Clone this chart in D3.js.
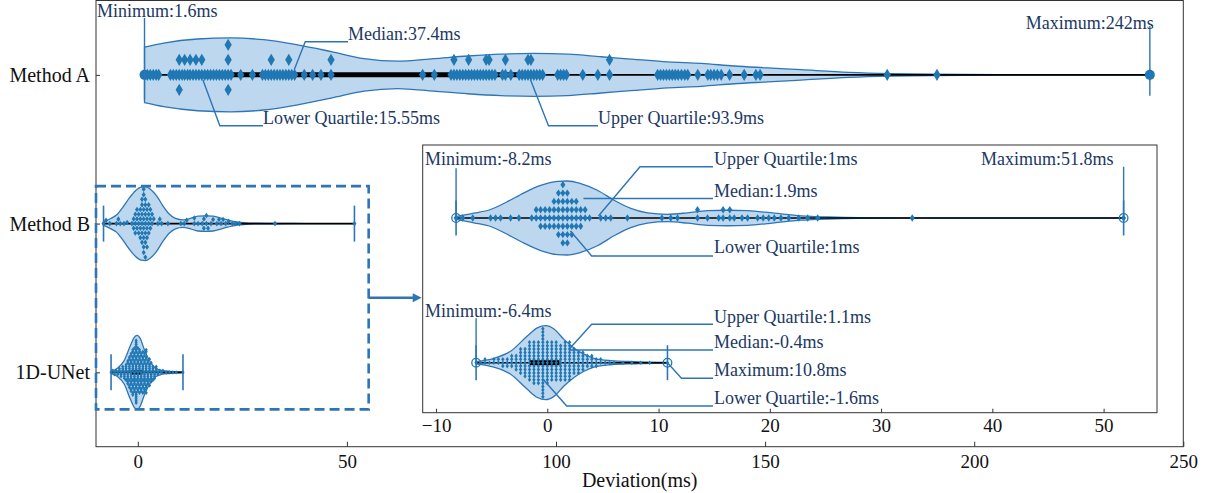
<!DOCTYPE html>
<meta charset="utf-8">
<head>
<script src="https://d3js.org/d3.v7.min.js"></script>
<style>
  body { margin: 0; background: #fff; }
  text { font-family: "Liberation Serif", "Times New Roman", serif; }
</style>
</head>
<body>
<div id="chart"></div>
<script>
var width = 1214, height = 493;

var methods = ["Method A", "Method B", "1D-UNet"];
var minVals = [1.6, -8.2, -6.4];
var q1Vals = [15.55, 1, -1.6];
var medVals = [37.4, 1.9, -0.4];
var q3Vals = [93.9, 1, 1.1];
var maxVals = [242, 51.8, 10.8];

var mainTicks = [0, 50, 100, 150, 200, 250];
var insetTicks = [-10, 0, 10, 20, 30, 40, 50];

var methodAValues = [
  1.6, 2.3, 3.0, 3.7, 4.4, 5.0,
  7.8, 8.5, 9.2, 9.9, 9.9, 9.9, 10.6, 11.2, 11.2, 11.9, 12.5, 12.5, 13.2, 13.9, 13.9,
  14.6, 15.3, 15.3, 16.0, 16.7, 17.4, 18.1, 18.8, 19.5, 20.2, 20.9, 21.6, 21.6, 21.6, 21.6, 22.3,
  24.6, 27.4, 29.8, 30.5, 31.2, 31.9, 31.9, 32.6, 33.3, 34.0, 34.7, 35.4, 36.1, 36.1, 36.8, 37.5,
  39.8, 41.8, 43.8, 46.2, 46.2,
  68.1, 70.9, 74.9, 75.6, 75.6, 76.3, 77.0, 77.7, 78.4, 79.1, 79.1, 79.8, 80.5, 81.2, 81.9, 82.6,
  83.3, 83.3, 84.0, 84.0, 84.7, 85.4, 87.2, 87.9, 87.9, 89.2, 91.2, 91.9, 92.6, 93.3, 93.3, 94.0,
  94.0, 94.7, 95.4, 96.1, 96.8,
  100.4, 101.1, 101.8, 102.5, 106.4, 110.0, 112.8, 112.8,
  124.3, 125.0, 125.7, 126.4, 127.1, 127.8, 128.5, 129.2, 130.0, 130.8, 131.5, 133.9, 136.3,
  137.0, 137.8, 138.6, 139.5, 141.5, 145.0, 147.8, 148.8,
  179.2, 191.1, 242
];

// Method B: [value, how many points]
var methodBCounts = [
  [-8.2, 1], [-7.6, 1], [-6.7, 1], [-5.1, 1], [-4.65, 1], [-4.2, 1], [-3.3, 1], [-2.55, 1],
  [-1.4, 1], [-1.0, 2], [-0.6, 3], [-0.2, 3], [0.2, 3], [0.6, 4], [1.0, 6], [1.4, 8], [1.8, 7],
  [2.2, 5], [2.6, 4], [3.0, 3], [3.4, 2], [3.8, 1],
  [4.8, 1], [5.25, 1], [5.7, 1], [7.2, 1], [10.3, 1], [11.1, 1], [11.7, 1], [13.5, 2], [14.4, 1],
  [15.4, 1], [15.8, 2], [16.4, 2], [16.8, 1], [17.5, 1], [18.0, 1], [18.9, 1], [19.4, 1], [19.9, 1],
  [20.4, 1], [21.0, 1], [21.7, 1], [22.6, 1], [23.4, 1], [24.3, 1], [32.8, 1], [51.8, 1]
];

// 1D-UNet: [value, how many points]
var unetCounts = [
  [-6.4, 1], [-6.0, 1], [-5.6, 2], [-5.2, 1], [-4.8, 2], [-4.4, 2], [-4.0, 3], [-3.6, 3],
  [-3.2, 4], [-2.8, 5], [-2.4, 8], [-2.0, 9], [-1.6, 12], [-1.2, 13], [-0.8, 13], [-0.4, 21],
  [0.0, 13], [0.4, 12], [0.8, 12], [1.2, 11], [1.6, 12], [2.0, 12], [2.4, 8], [2.8, 7],
  [3.2, 6], [3.6, 4], [4.0, 4], [4.4, 3], [4.8, 2], [5.2, 1], [5.6, 1], [6.0, 1], [6.8, 1],
  [7.6, 1], [8.4, 1], [9.2, 1], [10.8, 1]
];

// violin outlines: [value, relative half width]
var methodADensity = [
  [1.6, 0.75], [6.2, 0.86], [14.3, 0.97], [22.2, 1.0], [30.1, 0.95], [38.2, 0.81], [46.2, 0.63],
  [54.1, 0.44], [62.1, 0.37], [70.8, 0.44], [78.9, 0.51], [86.8, 0.56], [94.7, 0.58], [102.8, 0.56],
  [110.8, 0.49], [118.7, 0.42], [126.7, 0.35], [134.7, 0.31], [142.6, 0.24], [150.6, 0.19],
  [158.6, 0.14], [170, 0.07], [180, 0.035], [190, 0.017], [205, 0.008], [242, 0.003]
];
var methodBDensity = [
  [-8.2, 0.04], [-6.6, 0.13], [-5.1, 0.23], [-3.6, 0.44], [-2.1, 0.68], [-0.6, 0.88], [0.9, 0.99],
  [1.8, 1.0], [3.0, 0.93], [4.5, 0.75], [6.0, 0.48], [7.5, 0.26], [9.0, 0.14], [10.8, 0.1],
  [12.6, 0.14], [14.4, 0.2], [16.2, 0.21], [18.0, 0.2], [20.4, 0.13], [22.8, 0.06], [25.2, 0.027],
  [28, 0.01], [33, 0.006], [40, 0.002], [51.8, 0.001]
];
var unetDensity = [
  [-6.4, 0.03], [-4.8, 0.12], [-3.3, 0.31], [-1.8, 0.72], [-0.9, 0.94], [-0.15, 1.0], [0.6, 0.91],
  [1.5, 0.63], [2.4, 0.4], [3.3, 0.23], [4.2, 0.12], [5.7, 0.055], [7.8, 0.028], [10.8, 0.008]
];

var blue = "#1f77b4", edge = "#2e75b6", fillBlue = "#bdd7ee", navy = "#203864";

function expand(pairs) {
  var out = [];
  pairs.forEach(function(p) { for (var i = 0; i < p[1]; i++) out.push(p[0]); });
  return out;
}

var values = {"Method A": methodAValues, "Method B": expand(methodBCounts), "1D-UNet": expand(unetCounts)};
var density = {"Method A": methodADensity, "Method B": methodBDensity, "1D-UNet": unetDensity};

var svg = d3.select("#chart").append("svg")
  .attr("width", width)
  .attr("height", height);
svg.append("rect").attr("width", width).attr("height", height).attr("fill", "#fff");

var xM = d3.scaleLinear().domain([-10, 250]).range([96, 1183.3]);
var yM = d3.scalePoint().domain(methods).range([0.5, 446.7]).padding(0.5);
var xI = d3.scaleLinear().domain([-11.2, 54.8]).range([422.7, 1157]);
var yI = d3.scalePoint().domain(methods.slice(1)).range([218, 362.7]);
var halfW = d3.scaleLinear().domain([0, 1]).range([0, 37]);

// beeswarm with an elliptical footprint (cx wide, cy tall)
function swarm(vals, xs, cx, cy) {
  var placed = [];
  vals.slice().sort(d3.ascending).forEach(function(v) {
    var x = xs(v);
    var nb = placed.filter(function(p) { return Math.abs(p.x - x) < cx; });
    var cands = [0];
    nb.forEach(function(p) {
      var du = (x - p.x) / cx;
      var h = Math.sqrt(Math.max(0, 1 - du * du));
      cands.push(p.w + h, p.w - h);
    });
    cands.sort(function(a, b) { return (Math.abs(a) - Math.abs(b)) || (a - b); });
    var w = 0;
    for (var k = 0; k < cands.length; k++) {
      var c = cands[k];
      var ok = nb.every(function(p) {
        var du = (x - p.x) / cx, dw = c - p.w;
        return du * du + dw * dw >= 0.999;
      });
      if (ok) { w = c; break; }
    }
    placed.push({x: x, w: w, v: v});
  });
  return placed.map(function(p) { return {x: p.x, y: p.w * cy}; });
}

function diamond(w, h) { return "M0," + (-h) + "L" + w + ",0L0," + h + "L" + (-w) + ",0Z"; }

function drawViolin(g, xs, cy, name) {
  var area = d3.area()
    .x(function(d) { return xs(d[0]); })
    .y0(function(d) { return cy - halfW(d[1]); })
    .y1(function(d) { return cy + halfW(d[1]); })
    .curve(d3.curveMonotoneX);
  g.append("path").attr("d", area(density[name]))
    .attr("fill", fillBlue).attr("stroke", edge).attr("stroke-width", 1.3);
}

function drawBox(g, xs, cy, i) {
  g.append("line").attr("x1", xs(minVals[i])).attr("x2", xs(maxVals[i]))
    .attr("y1", cy).attr("y2", cy).attr("stroke", "#000").attr("stroke-width", 1.6);
  g.append("line").attr("x1", xs(q1Vals[i])).attr("x2", xs(q3Vals[i]))
    .attr("y1", cy).attr("y2", cy).attr("stroke", "#000").attr("stroke-width", 5);
}

function drawSwarm(g, xs, cy, name, o) {
  g.append("g").selectAll("path")
    .data(swarm(values[name], xs, o.cx, o.cy))
    .enter().append("path")
    .attr("d", diamond(o.w, o.h))
    .attr("transform", function(d) { return "translate(" + d.x + "," + (cy + d.y) + ")"; })
    .attr("fill", blue);
}

function drawCaps(g, xs, cy, i, len) {
  [minVals[i], maxVals[i]].forEach(function(v) {
    g.append("line").attr("x1", xs(v)).attr("x2", xs(v))
      .attr("y1", cy - len).attr("y2", cy + len)
      .attr("stroke", edge).attr("stroke-width", 1.6);
  });
}

var lineGen = d3.line();
function annotate(g, list) {
  list.forEach(function(a) {
    g.append("path").attr("d", lineGen(a.pts)).attr("fill", "none")
      .attr("stroke", edge).attr("stroke-width", 1.4);
    g.append("text").attr("x", a.x).attr("y", a.y)
      .attr("text-anchor", a.anchor || "start")
      .attr("font-size", 18).attr("fill", navy).text(a.text);
  });
}

// ---------- main axes ----------
var mainG = svg.append("g");
var mainOpts = {
  "Method A": {cx: 2.5, cy: 15, w: 3.6, h: 6.2},
  "Method B": {cx: 3.2, cy: 5.5, w: 2, h: 2.8},
  "1D-UNet": {cx: 3.2, cy: 2.0, w: 1.6, h: 2.1}
};
methods.forEach(function(m, i) {
  var cy = yM(m);
  drawViolin(mainG, xM, cy, m);
  drawBox(mainG, xM, cy, i);
  drawSwarm(mainG, xM, cy, m, mainOpts[m]);
  if (i > 0) drawCaps(mainG, xM, cy, i, 18);
});

var yA = yM("Method A");
[minVals[0], maxVals[0]].forEach(function(v) {
  mainG.append("circle").attr("cx", xM(v)).attr("cy", yA).attr("r", 5).attr("fill", blue);
});

annotate(mainG, [
  {text: "Minimum:" + minVals[0] + "ms", x: 97, y: 16.5,
   pts: [[xM(minVals[0]), 18], [xM(minVals[0]), yA + 25]]},
  {text: "Median:" + medVals[0] + "ms", x: 348, y: 40,
   pts: [[xM(medVals[0]), yA - 5], [xM(medVals[0]) + 11, 41.7], [348, 41.7]]},
  {text: "Lower Quartile:" + q1Vals[0] + "ms", x: 263, y: 124,
   pts: [[xM(q1Vals[0]), yA + 5], [xM(q1Vals[0]) + 17, 125.7], [263, 125.7]]},
  {text: "Upper Quartile:" + q3Vals[0] + "ms", x: 598, y: 124,
   pts: [[xM(q3Vals[0]), yA + 5], [xM(q3Vals[0]) + 18, 125.7], [598, 125.7]]},
  {text: "Maximum:" + maxVals[0] + "ms", x: xM(maxVals[0]) + 4, y: 29, anchor: "end",
   pts: [[xM(maxVals[0]), 26], [xM(maxVals[0]), yA + 21]]}
]);

// main axes frame and ticks
svg.append("rect").attr("x", 96).attr("y", 0.5).attr("width", 1087.3).attr("height", 446.2)
  .attr("fill", "none").attr("stroke", "#333").attr("stroke-width", 1);

var xAxisM = svg.append("g").attr("transform", "translate(0,446.7)")
  .call(d3.axisBottom(xM).tickValues(mainTicks).tickSizeInner(-5).tickSizeOuter(0).tickPadding(8));
var yAxisM = svg.append("g").attr("transform", "translate(96,0)")
  .call(d3.axisLeft(yM).tickSizeInner(-4).tickSizeOuter(0).tickPadding(6));
[xAxisM, yAxisM].forEach(function(ax) {
  ax.select(".domain").remove();
  ax.selectAll(".tick line").attr("stroke", "#333");
  ax.selectAll(".tick text").attr("font-family", "Liberation Serif").attr("fill", "#111");
});
xAxisM.selectAll(".tick text").attr("font-size", 19);
yAxisM.selectAll(".tick text").attr("font-size", 20);

svg.append("text").attr("x", (xM.range()[0] + xM.range()[1]) / 2).attr("y", 487)
  .attr("text-anchor", "middle").attr("font-size", 20).attr("fill", "#111")
  .text("Deviation(ms)");

// zoom box and arrow
var boxTop = yM("Method B") - 37.5, boxBot = yM("1D-UNet") + 37, boxRight = xM(55.2);
svg.append("rect").attr("x", xM.range()[0]).attr("y", boxTop)
  .attr("width", boxRight - xM.range()[0]).attr("height", boxBot - boxTop)
  .attr("fill", "none").attr("stroke", edge).attr("stroke-width", 2.6)
  .attr("stroke-dasharray", "10,5");
var arrowY = (boxTop + boxBot) / 2, arrowEnd = xI.range()[0] - 1;
svg.append("line").attr("x1", boxRight).attr("x2", arrowEnd - 6).attr("y1", arrowY).attr("y2", arrowY)
  .attr("stroke", edge).attr("stroke-width", 2.6);
svg.append("path")
  .attr("d", "M" + arrowEnd + "," + arrowY + "L" + (arrowEnd - 9) + "," + (arrowY - 4.5) +
    "L" + (arrowEnd - 9) + "," + (arrowY + 4.5) + "Z")
  .attr("fill", edge);

// ---------- inset ----------
var ix0 = xI.range()[0], ix1 = xI.range()[1], iy0 = 145, iy1 = 412.7;
svg.append("rect").attr("x", ix0).attr("y", iy0).attr("width", ix1 - ix0).attr("height", iy1 - iy0)
  .attr("fill", "#fff");
var insetG = svg.append("g");
var insetOpts = {
  "Method B": {cx: 4, cy: 8.3, w: 2.5, h: 3.7},
  "1D-UNet": {cx: 3.5, cy: 3.4, w: 1.7, h: 2.3}
};
methods.slice(1).forEach(function(m, k) {
  var i = k + 1, cy = yI(m);
  drawViolin(insetG, xI, cy, m);
  drawBox(insetG, xI, cy, i);
  drawSwarm(insetG, xI, cy, m, insetOpts[m]);
  drawCaps(insetG, xI, cy, i, 17.5);
  [minVals[i], maxVals[i]].forEach(function(v) {
    insetG.append("circle").attr("cx", xI(v)).attr("cy", cy).attr("r", 4.3)
      .attr("fill", "none").attr("stroke", blue).attr("stroke-width", 1.3);
  });
});

var yB = yI("Method B"), yU = yI("1D-UNet");
annotate(insetG, [
  {text: "Minimum:" + minVals[1] + "ms", x: 425, y: 165,
   pts: [[xI(minVals[1]), 168.3], [xI(minVals[1]), yB]]},
  {text: "Upper Quartile:" + q3Vals[1] + "ms", x: 714, y: 165,
   pts: [[xI(q3Vals[1]) + 40, yB - 2], [640, 166.7], [713, 166.7]]},
  {text: "Median:" + medVals[1] + "ms", x: 714, y: 197,
   pts: [[xI(medVals[1]) + 15, 198.5], [713, 198.5]]},
  {text: "Lower Quartile:" + q1Vals[1] + "ms", x: 714, y: 253,
   pts: [[xI(q1Vals[1]) + 12, yB + 13], [591.7, 256], [713, 256]]},
  {text: "Maximum:" + maxVals[1] + "ms", x: xI(maxVals[1]) - 10, y: 165, anchor: "end",
   pts: [[xI(maxVals[1]), 166.7], [xI(maxVals[1]), yB]]},
  {text: "Minimum:" + minVals[2] + "ms", x: 425, y: 317,
   pts: [[xI(minVals[2]), 318.3], [xI(minVals[2]), yU]]},
  {text: "Upper Quartile:" + q3Vals[2] + "ms", x: 714, y: 323,
   pts: [[xI(q3Vals[2]) + 10, yU - 14], [591.7, 324.3], [713, 324.3]]},
  {text: "Median:" + medVals[2] + "ms", x: 714, y: 348,
   pts: [[xI(medVals[2]) + 26, 350], [713, 350]]},
  {text: "Maximum:" + maxVals[2] + "ms", x: 714, y: 376,
   pts: [[xI(maxVals[2]), yU], [xI(maxVals[2]) + 14, 378.3], [713, 378.3]]},
  {text: "Lower Quartile:" + q1Vals[2] + "ms", x: 714, y: 404,
   pts: [[xI(q1Vals[2]) + 14, yU + 17], [566.7, 406], [713, 406]]}
]);

svg.append("rect").attr("x", ix0).attr("y", iy0).attr("width", ix1 - ix0).attr("height", iy1 - iy0)
  .attr("fill", "none").attr("stroke", "#333").attr("stroke-width", 1);
var xAxisI = svg.append("g").attr("transform", "translate(0," + iy1 + ")")
  .call(d3.axisBottom(xI).tickValues(insetTicks).tickSizeInner(-4).tickSizeOuter(0).tickPadding(6));
xAxisI.select(".domain").remove();
xAxisI.selectAll(".tick line").attr("stroke", "#333");
xAxisI.selectAll(".tick text").attr("font-family", "Liberation Serif").attr("font-size", 19).attr("fill", "#111");
</script>
</body>
